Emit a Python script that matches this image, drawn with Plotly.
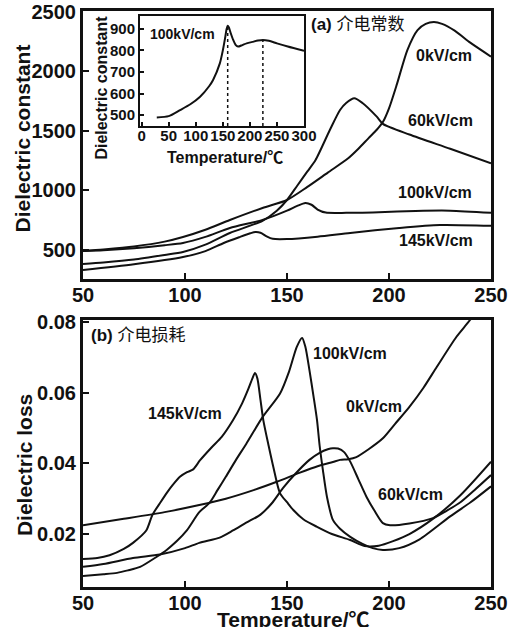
import numpy as np
import plotly.graph_objects as go

# ---------------- data: (a) dielectric constant ----------------
cap_0_T = [50, 60, 75, 90, 99, 110, 122, 138, 150, 160, 170, 180, 185, 190, 194, 197, 200, 204, 209, 214, 218, 222, 226, 232, 240, 250]
cap_0_v = [492, 505, 530, 570, 609, 670, 752, 853, 920, 1030, 1150, 1270, 1350, 1440, 1510, 1575, 1690, 1900, 2180, 2348, 2400, 2415, 2400, 2345, 2240, 2125]

cap_60_T = [50, 60, 75, 90, 99, 110, 122, 138, 145, 150, 155, 160, 164, 171, 176, 179, 183, 187, 194, 197, 210, 230, 250]
cap_60_v = [382, 395, 420, 458, 483, 545, 643, 745, 830, 920, 1040, 1160, 1256, 1508, 1676, 1735, 1775, 1735, 1620, 1560, 1470, 1350, 1228]

cap_100_T = [50, 60, 75, 90, 99, 110, 122, 138, 150, 155, 159, 162, 165, 169, 179, 195, 213, 230, 250]
cap_100_v = [492, 498, 515, 540, 559, 610, 685, 752, 830, 870, 895, 880, 840, 814, 812, 818, 828, 830, 812]

cap_145_T = [50, 75, 99, 110, 119, 127, 132, 134.5, 137, 140, 143, 150, 165, 181, 205, 225, 250]
cap_145_v = [332, 380, 441, 490, 559, 610, 640, 651, 645, 615, 594, 592, 612, 643, 685, 710, 703]

# inset: 100 kV/cm
ins_T = [28, 50, 71, 90, 108, 125, 132, 144.5, 150, 154, 157, 159, 161, 164, 169, 174, 178, 186, 194, 205, 215, 224, 235, 250, 270, 300]
ins_v = [489, 495, 523, 550, 585, 635, 663, 740, 800, 855, 900, 915, 908, 885, 850, 825, 818, 825, 833, 840, 846, 849, 845, 833, 818, 798]
ins_peak_T = [159, 224]

# ---------------- data: (b) dielectric loss ----------------
loss_0_T = [50, 70, 90, 107, 120, 134, 145, 156, 165, 172.5, 176, 180, 184, 190, 197, 203, 210, 217, 223.4, 233, 239.7, 246]
loss_0_v = [0.0225, 0.0243, 0.0262, 0.0282, 0.0300, 0.0325, 0.0348, 0.0373, 0.0392, 0.0404, 0.0410, 0.0412, 0.0418, 0.0440, 0.0471, 0.0512, 0.0560, 0.0615, 0.0673, 0.0758, 0.0806, 0.0860]

loss_60_T = [50, 60, 74.5, 87.7, 100, 107, 117, 123.5, 130, 137, 143, 148, 154, 161, 166, 170, 172.5, 175, 178, 181, 185, 189, 193, 197, 200.5, 210, 221.6, 228, 235, 242, 250]
loss_60_v = [0.0107, 0.0115, 0.0132, 0.0142, 0.0160, 0.0175, 0.0190, 0.0210, 0.0232, 0.0255, 0.0290, 0.0330, 0.0370, 0.0410, 0.0430, 0.0440, 0.0443, 0.0442, 0.0432, 0.0405, 0.0355, 0.0305, 0.0265, 0.0231, 0.0225, 0.0230, 0.0245, 0.0265, 0.0290, 0.0325, 0.0367]

loss_100_T = [50, 60, 66.7, 72, 78, 86, 91, 96, 101, 107, 112, 116, 120, 125, 130, 138, 146.6, 151, 154.8, 157.4, 159, 161, 163, 164.7, 166, 167.6, 169.6, 172.5, 176, 181, 187, 192, 197, 205, 215, 230, 240, 250]
loss_100_v = [0.0081, 0.0086, 0.0090, 0.0097, 0.0107, 0.0135, 0.0155, 0.0180, 0.0211, 0.0262, 0.0288, 0.0325, 0.0362, 0.0410, 0.0455, 0.0531, 0.0598, 0.0660, 0.0730, 0.0755, 0.0730, 0.0664, 0.0590, 0.0523, 0.0450, 0.0381, 0.0305, 0.0240, 0.0215, 0.0192, 0.0172, 0.0160, 0.0155, 0.0160, 0.0185, 0.0250, 0.0290, 0.0335]

loss_145_T = [50, 57, 63, 70, 74.5, 81, 84, 88, 91, 94, 97.5, 101, 104, 107.4, 113, 118, 123.5, 128, 131, 133, 134.3, 135.5, 137, 138.4, 141, 143.3, 146.6, 150, 153.1, 158, 164.5, 172, 181, 188, 195, 202, 210, 222, 235, 250]
loss_145_v = [0.0129, 0.0132, 0.0140, 0.0158, 0.0175, 0.0210, 0.0254, 0.0290, 0.0316, 0.0339, 0.0362, 0.0375, 0.0383, 0.0409, 0.0445, 0.0475, 0.0522, 0.0570, 0.0610, 0.0640, 0.0656, 0.0640, 0.0580, 0.0522, 0.0450, 0.0390, 0.0315, 0.0290, 0.0268, 0.0242, 0.0221, 0.0200, 0.0183, 0.0166, 0.0167, 0.0180, 0.0200, 0.0245, 0.0310, 0.0405]

x_ticks = [50, 100, 150, 200, 250]
cap_ticks = [500, 1000, 1500, 2000, 2500]
loss_ticks = [0.02, 0.04, 0.06, 0.08]
ins_x_ticks = [0, 50, 100, 150, 200, 250, 300]
ins_y_ticks = [500, 600, 700, 800, 900]

FONT = "Liberation Sans, Arial, Noto Sans CJK SC, sans-serif"
BLACK = "#111111"

fig = go.Figure()
line = dict(color=BLACK, width=2, shape="spline", smoothing=0.7)

for T, v in [(cap_0_T, cap_0_v), (cap_60_T, cap_60_v), (cap_100_T, cap_100_v), (cap_145_T, cap_145_v)]:
    fig.add_trace(go.Scatter(x=T, y=v, mode="lines", line=line, xaxis="x", yaxis="y", showlegend=False))

for T, v in [(loss_0_T, loss_0_v), (loss_60_T, loss_60_v), (loss_100_T, loss_100_v), (loss_145_T, loss_145_v)]:
    fig.add_trace(go.Scatter(x=T, y=v, mode="lines", line=line, xaxis="x2", yaxis="y2", showlegend=False))

# inset curve and dotted peak markers
fig.add_trace(go.Scatter(x=ins_T, y=ins_v, mode="lines", line=line, xaxis="x3", yaxis="y3", showlegend=False))
ins_ybot = 449
for pt in ins_peak_T:
    top = float(np.interp(pt, ins_T, ins_v))
    fig.add_trace(go.Scatter(x=[pt, pt], y=[ins_ybot, top], mode="lines",
                             line=dict(color=BLACK, width=1.5, dash="dot"),
                             xaxis="x3", yaxis="y3", showlegend=False))

tick_main = dict(family=FONT, size=20, color=BLACK, weight="bold")
tick_ins = dict(family=FONT, size=15, color=BLACK, weight="bold")
ax_common = dict(showline=True, linewidth=3, linecolor=BLACK, mirror=True, ticks="inside",
                 ticklen=6, tickwidth=2, tickcolor=BLACK, showgrid=False, zeroline=False,
                 tickfont=tick_main, tickangle=0, automargin=False, ticklabeloverflow="allow")
ax_ins = dict(showline=True, linewidth=2, linecolor=BLACK, mirror=True, ticks="inside",
              ticklen=4, tickwidth=1.5, tickcolor=BLACK, showgrid=False, zeroline=False,
              tickfont=tick_ins, tickangle=0, automargin=False, ticklabeloverflow="allow")

fig.update_layout(
    width=511, height=627,
    margin=dict(l=83, r=20, t=11, b=40, autoexpand=False),
    paper_bgcolor="white", plot_bgcolor="white",
    font=dict(family=FONT, color=BLACK),
    xaxis=dict(domain=[0, 1], range=[50, 250], tickvals=x_ticks, anchor="y",
               ticklabelstandoff=-4, **ax_common),
    yaxis=dict(domain=[0.5347, 1], range=[256, 2508], tickvals=cap_ticks, anchor="x", **ax_common),
    xaxis2=dict(domain=[0, 1], range=[50, 250], tickvals=x_ticks, anchor="y2",
                ticklabelstandoff=-4, **ax_common),
    yaxis2=dict(domain=[0, 0.4635], range=[0.005, 0.0806], tickvals=loss_ticks, tickformat=".2f",
                anchor="x2", **ax_common),
    xaxis3=dict(domain=[0.1397, 0.5417], range=[-3, 300], tickvals=ins_x_ticks, anchor="y3",
                ticklabelstandoff=-5, **ax_ins),
    yaxis3=dict(domain=[0.8003, 0.9913], range=[449, 960], tickvals=ins_y_ticks, anchor="x3", **ax_ins),
)

def lab(text, x, y, xref, yref, size=16, bold=True, angle=0, xanchor="center"):
    fig.add_annotation(text=text, x=x, y=y, xref=xref, yref=yref, showarrow=False,
                       textangle=angle, xanchor=xanchor, yanchor="middle",
                       font=dict(family=FONT, size=size, color=BLACK, weight="bold" if bold else "normal"))

# axis titles
lab("Dielectric constant", -0.148, 0.778, "paper", "paper", size=21, angle=-90)
lab("Dielectric loss", -0.143, 0.211, "paper", "paper", size=21, angle=-90)
lab("Temperature/℃", 0.517, -0.057, "paper", "paper", size=21)
lab("Dielectric constant", 0.0466, 0.867, "paper", "paper", size=16, angle=-90)
lab("Temperature/℃", 0.348, 0.7465, "paper", "paper", size=16)

# panel labels
lab("<b>(a)</b> 介电常数", 184.8, 2391, "x", "y", size=17, bold=False)
lab("<b>(b)</b> 介电损耗", 52.9, 0.0763, "x2", "y2", size=17, bold=False, xanchor="left")

# curve labels (a)
lab("0kV/cm", 227, 2130, "x", "y")
lab("60kV/cm", 225, 1584, "x", "y")
lab("100kV/cm", 222.5, 979, "x", "y")
lab("145kV/cm", 223, 576, "x", "y")
lab("100kV/cm", 76, 877, "x3", "y3", size=14)

# curve labels (b)
lab("145kV/cm", 100, 0.054, "x2", "y2")
lab("100kV/cm", 180.9, 0.0712, "x2", "y2")
lab("0kV/cm", 192.6, 0.056, "x2", "y2")
lab("60kV/cm", 210.3, 0.0313, "x2", "y2")

fig.write_html("out.html", config={"displayModeBar": False},
               post_script="document.body.style.margin='0px';")
